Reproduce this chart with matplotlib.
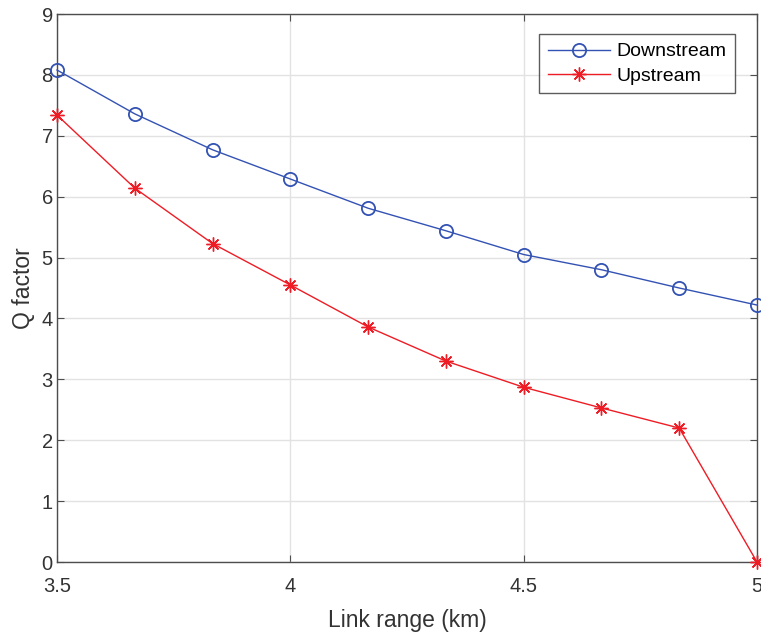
import matplotlib
matplotlib.use("Agg")
import matplotlib.pyplot as plt

link_range = [3.5, 3.6667, 3.8333, 4.0, 4.1667, 4.3333, 4.5, 4.6667, 4.8333, 5.0]
downstream = [8.08, 7.36, 6.77, 6.29, 5.81, 5.44, 5.05, 4.80, 4.50, 4.22]
upstream = [7.34, 6.14, 5.23, 4.55, 3.86, 3.30, 2.87, 2.53, 2.20, 0.0]

xticks = [3.5, 4, 4.5, 5]
xticklabels = ["3.5", "4", "4.5", "5"]
yticks = list(range(0, 10))

plt.rcParams['font.family'] = ['Liberation Sans', 'DejaVu Sans']

fig = plt.figure(figsize=(7.61, 6.35), dpi=100)
ax = fig.add_axes([57/761, 1-562/635, 700/761, 548/635])

ax.plot(link_range, downstream, color='#3352b3', lw=1.0, marker='o', ms=9.5,
        mfc='none', mec='#3352b3', mew=1.3, label='Downstream', clip_on=False, zorder=3)
ax.plot(link_range, upstream, color='#ee1c25', lw=1.0, marker=(8, 2, 0), ms=10,
        mfc='none', mec='#ee1c25', mew=1.0, label='Upstream', clip_on=False, zorder=3)

ax.set_xlim(3.5, 5)
ax.set_ylim(0, 9)
ax.set_xticks(xticks)
ax.set_xticklabels(xticklabels)
ax.set_yticks(yticks)
ax.grid(True, color='#e2e2e2', lw=1.0)
ax.set_axisbelow(True)
for s in ax.spines.values():
    s.set_color('#4d4d4d')
    s.set_linewidth(1.0)
ax.tick_params(direction='in', length=5, color='#4d4d4d', labelcolor='#333333',
               labelsize=14.5, top=True, right=True)
ax.tick_params(axis='x', pad=11)
ax.tick_params(axis='y', pad=3)
ax.set_xlabel('Link range (km)', fontsize=16.5, color='#333333', labelpad=9)
ax.set_ylabel('Q factor', fontsize=16.5, color='#333333', labelpad=5)

leg = ax.legend(loc='upper right', bbox_to_anchor=(0.9686, 0.9635), borderaxespad=0,
                fontsize=14, frameon=True, fancybox=False, edgecolor='#333333',
                handlelength=3.2, borderpad=0.45, labelspacing=0.34, handletextpad=0.3)
leg.get_frame().set_linewidth(1.0)

fig.savefig('out.png', dpi=100)
